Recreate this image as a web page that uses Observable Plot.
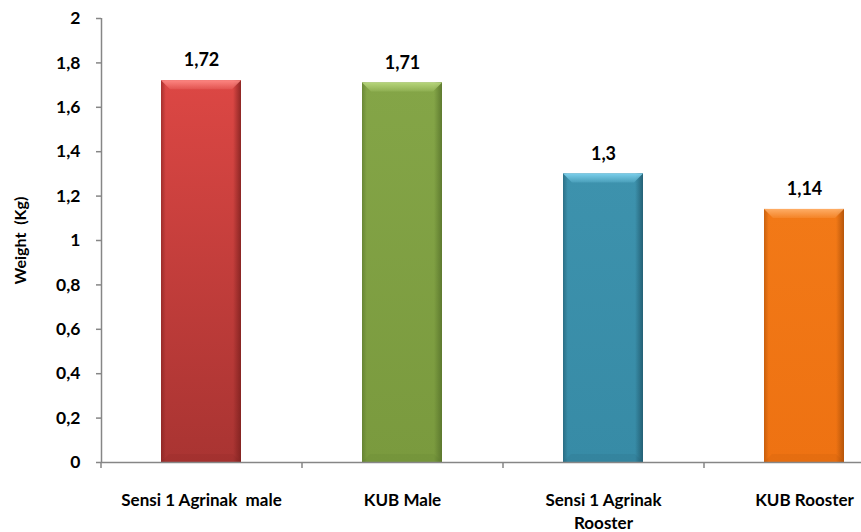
<!DOCTYPE html>
<html><head><meta charset="utf-8">
<script src="https://cdn.jsdelivr.net/npm/d3@7"></script>
<script src="https://cdn.jsdelivr.net/npm/@observablehq/plot@0.6"></script>
<style>html,body{margin:0;padding:0;background:#fff;overflow:hidden;} svg{display:block;}</style>
</head><body><div id="chart"></div>
<script>
const categories = ["Sensi 1 Agrinak  male", "KUB Male", "Sensi 1 Agrinak\nRooster", "KUB Rooster"];
const values = [1.72, 1.71, 1.3, 1.14];
const valueLabels = ["1,72", "1,71", "1,3", "1,14"];
const yTicks = [0, 0.2, 0.4, 0.6, 0.8, 1, 1.2, 1.4, 1.6, 1.8, 2];
const yTickLabels = ["0", "0,2", "0,4", "0,6", "0,8", "1", "1,2", "1,4", "1,6", "1,8", "2"];
const yLabel = "Weight  (Kg)";
// [top, bottom, light highlight, dark edge]
const barColors = [
  ["#dc4744", "#a93432", "#ff8a85", "#7a1f1d"],
  ["#84a547", "#7a9a3e", "#b9d87e", "#55702a"],
  ["#3d92ad", "#378ba6", "#7fd3ef", "#1f5568"],
  ["#f27917", "#ee7212", "#ffb06a", "#a84e08"]
];

const data = categories.map((c, i) => ({cat: c, value: values[i], label: valueLabels[i], i}));
const font = "Lato, 'Open Sans', sans-serif";
const W = 861, H = 532;

function decor(index, scales, vals, dims) {
  const sx = scales.x, sy = scales.y;
  const desc = scales.scales ? scales.scales.x : null;
  let bw = typeof sx.bandwidth === "function" ? sx.bandwidth() : (desc ? desc.bandwidth : 0);
  let step = typeof sx.step === "function" ? sx.step() : (desc ? desc.step : 0);
  if (!step) step = sx(categories[1]) - sx(categories[0]);
  const g = d3.create("svg:g");
  const defs = g.append("defs");
  data.forEach((d, i) => {
    const [top, bot, hi, dk] = barColors[i];
    const lg = defs.append("linearGradient").attr("id", "v" + i).attr("x1", 0).attr("y1", 0).attr("x2", 0).attr("y2", 1);
    lg.append("stop").attr("offset", 0).attr("stop-color", top);
    lg.append("stop").attr("offset", 1).attr("stop-color", bot);
    const hg = defs.append("linearGradient").attr("id", "h" + i).attr("x1", 0).attr("y1", 0).attr("x2", 1).attr("y2", 0);
    hg.append("stop").attr("offset", 0).attr("stop-color", dk).attr("stop-opacity", 0.55);
    hg.append("stop").attr("offset", 0.06).attr("stop-color", dk).attr("stop-opacity", 0.0);
    hg.append("stop").attr("offset", 0.9).attr("stop-color", dk).attr("stop-opacity", 0.0);
    hg.append("stop").attr("offset", 1).attr("stop-color", dk).attr("stop-opacity", 0.8);
    const tg = defs.append("linearGradient").attr("id", "t" + i).attr("x1", 0).attr("y1", 0).attr("x2", 0).attr("y2", 1);
    tg.append("stop").attr("offset", 0).attr("stop-color", hi).attr("stop-opacity", 0.95);
    tg.append("stop").attr("offset", 1).attr("stop-color", hi).attr("stop-opacity", 0.2);
  });
  data.forEach((d, i) => {
    const x0 = sx(d.cat), x1 = x0 + bw;
    const yt = sy(d.value), yb = sy(0);
    g.append("rect").attr("x", x0).attr("y", yt).attr("width", bw).attr("height", yb - yt).attr("fill", `url(#v${i})`);
    g.append("rect").attr("x", x0).attr("y", yt).attr("width", bw).attr("height", yb - yt).attr("fill", `url(#h${i})`);
    g.append("path").attr("d", `M${x0},${yt}L${x1},${yt}L${x1 - 9},${yt + 9}L${x0 + 9},${yt + 9}Z`).attr("fill", `url(#t${i})`);
    g.append("path").attr("d", `M${x0},${yb}L${x1},${yb}L${x1 - 8},${yb - 8}L${x0 + 8},${yb - 8}Z`).attr("fill", barColors[i][3]).attr("fill-opacity", 0.12);
  });
  const left = dims.marginLeft;
  g.append("line").attr("x1", left).attr("x2", dims.width).attr("y1", sy(0) + 0.5).attr("y2", sy(0) + 0.5).attr("stroke", "#868686").attr("stroke-width", 1.5);
  g.append("line").attr("x1", left + 0.5).attr("x2", left + 0.5).attr("y1", sy(yTicks[yTicks.length - 1])).attr("y2", sy(0)).attr("stroke", "#868686").attr("stroke-width", 1.5);
  categories.forEach((c) => {
    const bx = sx(c) - (step - bw) / 2;
    g.append("line").attr("x1", bx + 0.5).attr("x2", bx + 0.5).attr("y1", sy(0)).attr("y2", sy(0) + 6).attr("stroke", "#868686").attr("stroke-width", 1.5);
  });
  return g.node();
}

const chart = Plot.plot({
  width: W,
  height: H,
  marginLeft: 101,
  marginRight: 0,
  marginTop: 18,
  marginBottom: 70,
  style: {fontFamily: font, background: "#fff"},
  x: {type: "band", domain: categories, range: [101, 905], paddingInner: 0.6, paddingOuter: 0.3, axis: null},
  y: {domain: [0, 2], axis: null},
  marks: [
    decor,
    Plot.axisY({ticks: yTicks, tickFormat: (d) => yTickLabels[yTicks.indexOf(d)], tickSize: 5, tickPadding: 16, stroke: "#868686", strokeWidth: 1.5, fontSize: 17.5, fontWeight: "bold", fill: "#000", label: null}),
    Plot.axisX({tickSize: 0, tickPadding: 28, fontSize: 17, fontWeight: "bold", fill: "#000", label: null, lineHeight: 1.32}),
    Plot.text(data, {x: "cat", y: "value", text: "label", dy: -20, fontSize: 18, fontWeight: "bold", fill: "#000"}),
    Plot.text([yLabel], {frameAnchor: "left", textAnchor: "middle", dx: -81, rotate: -90, fontSize: 16, fontWeight: "bold", fill: "#000"})
  ]
});
document.getElementById("chart").appendChild(chart);
</script>
</body></html>
